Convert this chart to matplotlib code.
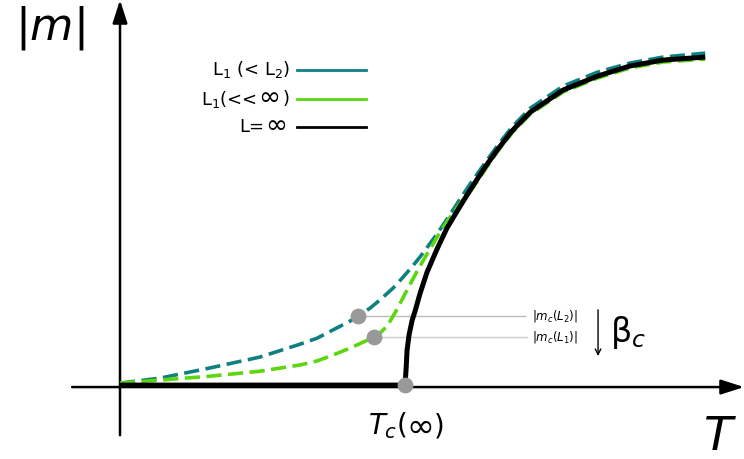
import matplotlib.pyplot as plt
from matplotlib.lines import Line2D

plt.rcParams['mathtext.fontset'] = 'dejavusans'

# order parameter |m| against temperature T (T_c(inf) = 1)
T_inf = [0.0, 1.000, 1.004, 1.007, 1.014, 1.025, 1.035, 1.053, 1.077, 1.112,
         1.147, 1.193, 1.235, 1.281, 1.323, 1.375, 1.439, 1.554, 1.674, 1.789,
         1.905, 2.053]
m_inf = [0.0, 0.000, 0.055, 0.106, 0.152, 0.197, 0.224, 0.279, 0.342, 0.412,
         0.476, 0.542, 0.600, 0.661, 0.712, 0.770, 0.827, 0.894, 0.936, 0.967,
         0.985, 0.994]

T_L2 = [0.000, 0.140, 0.316, 0.491, 0.632, 0.691, 0.747, 0.807, 0.835, 0.877,
        0.912, 0.958, 0.993, 1.028, 1.063, 1.112, 1.158, 1.193, 1.228, 1.281,
        1.323, 1.375, 1.439, 1.554, 1.674, 1.789, 1.905, 2.053]
m_L2 = [0.006, 0.021, 0.052, 0.085, 0.124, 0.142, 0.167, 0.194, 0.209, 0.233,
        0.258, 0.294, 0.327, 0.362, 0.400, 0.458, 0.517, 0.564, 0.609, 0.674,
        0.724, 0.782, 0.839, 0.906, 0.948, 0.976, 0.994, 1.006]

T_L1 = [0.000, 0.140, 0.316, 0.491, 0.632, 0.691, 0.747, 0.807, 0.891, 0.916,
        0.937, 0.954, 0.972, 1.007, 1.042, 1.081, 1.123, 1.158, 1.200, 1.235,
        1.281, 1.323, 1.375, 1.439, 1.554, 1.674, 1.789, 1.905, 2.053]
m_L1 = [0.006, 0.015, 0.027, 0.042, 0.061, 0.073, 0.091, 0.112, 0.145, 0.161,
        0.179, 0.203, 0.230, 0.288, 0.345, 0.403, 0.464, 0.509, 0.558, 0.594,
        0.653, 0.706, 0.764, 0.821, 0.888, 0.930, 0.961, 0.979, 0.988]

# critical points marked on the finite-size curves
Tc = 1.0
Tc_L2, mc_L2 = 0.835, 0.209
Tc_L1, mc_L1 = 0.891, 0.145

teal = '#0f8080'
green = '#5cd60f'
grey = '#999999'

W, H = 744, 459


def px(x, y):
    # pixel position -> figure fraction
    return x / W, 1 - y / H


fig = plt.figure(figsize=(W / 100, H / 100), dpi=100)
ax = fig.add_axes([0, 0, 1, 1])
ax.set_xlim(-0.421, 2.189)
ax.set_ylim(-0.224, 1.167)
ax.axis('off')

# axes with arrow heads
ax.annotate('', xy=(2.189, -0.006), xytext=(-0.168, -0.006),
            arrowprops=dict(arrowstyle='-|>,head_length=1.4,head_width=0.45',
                            lw=1.8, color='black', shrinkA=0, shrinkB=0))
ax.annotate('', xy=(0.0, 1.167), xytext=(0.0, -0.152),
            arrowprops=dict(arrowstyle='-|>,head_length=1.4,head_width=0.45',
                            lw=1.8, color='black', shrinkA=0, shrinkB=0))

ax.plot(T_L2, m_L2, color=teal, lw=2.6, dashes=(4.2, 1.8), zorder=3)
ax.plot(T_L1, m_L1, color=green, lw=2.6, dashes=(4.2, 1.8), zorder=3)
ax.plot(T_inf, m_inf, color='black', lw=3.6, zorder=4, solid_capstyle='butt')

# guide lines from the finite-size critical points
ax.plot([Tc_L2, 1.421], [mc_L2, mc_L2], color='#bbbbbb', lw=1.0, zorder=2)
ax.plot([Tc_L1, 1.428], [mc_L1, mc_L1], color='#cccccc', lw=1.0, zorder=2)
ax.scatter([Tc_L2, Tc_L1, Tc], [mc_L2, mc_L1, 0.0], s=130, color=grey,
           zorder=5, linewidths=0)

ax.text(1.445, mc_L2, r'$|m_c(L_2)|$', fontsize=8.5, va='center', ha='left')
ax.text(1.445, mc_L1, r'$|m_c(L_1)|$', fontsize=8.5, va='center', ha='left')
ax.annotate('', xy=(1.677, 0.088), xytext=(1.677, 0.228),
            arrowprops=dict(arrowstyle='->', lw=1.0, color='black',
                            shrinkA=0, shrinkB=0))
ax.text(1.72, 0.16, r'$\mathrm{\beta}_c$', fontsize=24, va='center', ha='left')

fig.text(*px(50, 28), r'$|m|$', fontsize=32, va='center', ha='center')
fig.text(*px(720, 438), r'$T$', fontsize=34, va='center', ha='center')

# T_c(inf) label, with a larger infinity sign
fig.text(*px(368, 434), r'$T_c($', fontsize=20, va='baseline', ha='left')
fig.text(*px(420, 427), '\u221e', fontsize=24, va='center', ha='center')
fig.text(*px(434, 434), ')', fontsize=20, va='baseline', ha='left')

# legend keys and labels
rows = [70, 99, 127]
for y, c in zip(rows, [teal, green, 'black']):
    fig.add_artist(Line2D([297 / W, 366 / W], [1 - y / H] * 2, color=c, lw=2))
fs = 13
fig.text(*px(290, 70), r'L$_1$ (< L$_2$)', fontsize=fs, va='center', ha='right')
fig.text(*px(257, 99), r'L$_1$(<<', fontsize=fs, va='center', ha='right')
fig.text(*px(269, 98), '\u221e', fontsize=19, va='center', ha='center')
fig.text(*px(290, 99), ')', fontsize=fs, va='center', ha='right')
fig.text(*px(264, 127), 'L=', fontsize=fs, va='center', ha='right')
fig.text(*px(276, 126), '\u221e', fontsize=19, va='center', ha='center')

fig.savefig('out.png', dpi=100)
